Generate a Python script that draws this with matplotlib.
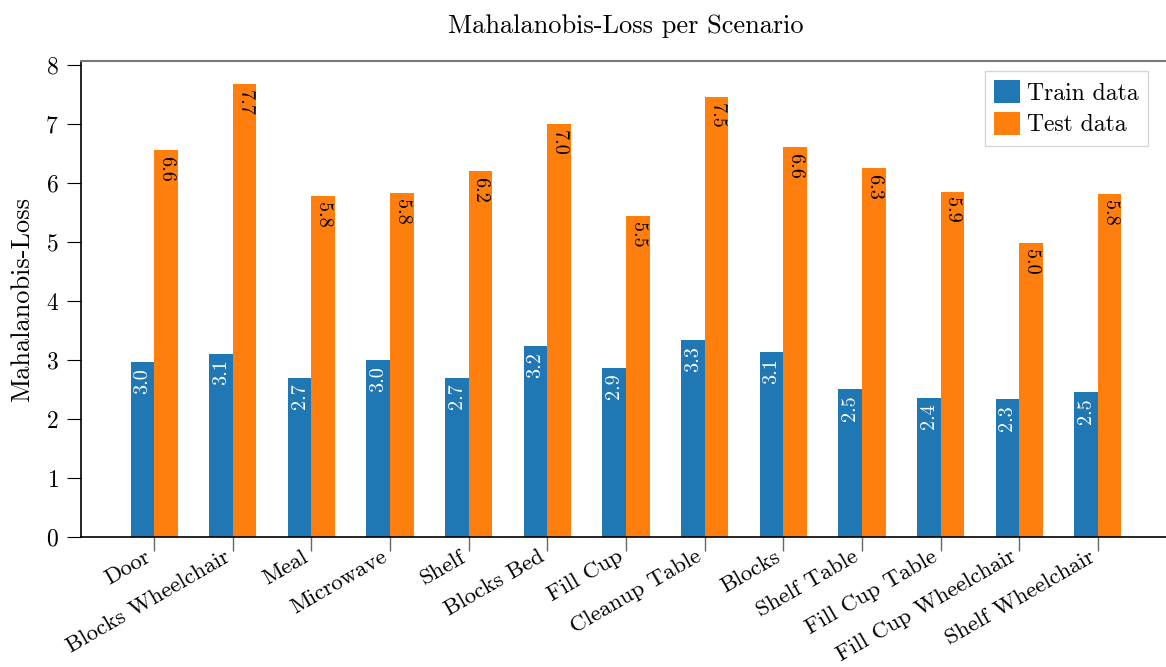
import numpy as np
import matplotlib
matplotlib.use("Agg")
import matplotlib.pyplot as plt

plt.rcParams['font.family'] = ['cmr10', 'DejaVu Serif']
plt.rcParams['mathtext.fontset'] = 'cm'
plt.rcParams['axes.formatter.use_mathtext'] = True

scenarios = ["Door", "Blocks Wheelchair", "Meal", "Microwave", "Shelf",
             "Blocks Bed", "Fill Cup", "Cleanup Table", "Blocks",
             "Shelf Table", "Fill Cup Table", "Fill Cup Wheelchair",
             "Shelf Wheelchair"]
train_loss = [2.97, 3.11, 2.70, 3.00, 2.70, 3.24, 2.87, 3.34, 3.14,
              2.51, 2.36, 2.34, 2.46]
test_loss = [6.57, 7.69, 5.79, 5.84, 6.21, 7.01, 5.45, 7.47, 6.61,
             6.26, 5.86, 4.99, 5.82]

train_color = "#1f77b4"
test_color = "#ff7f0e"

fig = plt.figure(figsize=(11.66, 6.67), dpi=100)
ax = fig.add_axes([81 / 1166, 1 - 537 / 667, 1090 / 1166, 476 / 667])

x = np.arange(len(scenarios))
w = 0.3
ax.bar(x - w / 2, train_loss, w, color=train_color, label="Train data")
ax.bar(x + w / 2, test_loss, w, color=test_color, label="Test data")

# value labels inside the top of each bar
for xi, v in zip(x, train_loss):
    ax.text(xi - w / 2, v - 0.1, f"{v:.1f}", rotation=90, ha="center",
            va="top", color="white", fontsize=14.5)
for xi, v in zip(x, test_loss):
    ax.text(xi + w / 2, v - 0.1, f"{v:.1f}", rotation=270, ha="center",
            va="top", color="black", fontsize=14.5)

ax.set_xticks(x)
ax.set_xticklabels(scenarios, rotation=30, ha="right", fontsize=16.5)
ax.tick_params(axis="x", length=10, color="#666666", width=1, pad=-3)
ax.tick_params(axis="y", length=10, labelsize=17, pad=6)
ax.set_yticks(range(0, 9))

ax.spines["right"].set_visible(False)
ax.spines["top"].set_color("#777777")
ax.spines["top"].set_linewidth(1.5)
ax.spines["left"].set_linewidth(1.2)
ax.spines["bottom"].set_linewidth(1.2)

ax.set_ylabel("Mahalanobis-Loss", fontsize=19, labelpad=8)
ax.set_title("Mahalanobis-Loss per Scenario", fontsize=19, pad=20)

leg = ax.legend(loc="upper right", bbox_to_anchor=(0.979, 0.979),
                fontsize=17, fancybox=False, handlelength=1.1,
                handleheight=1.1, handletextpad=0.3, borderaxespad=0,
                labelspacing=0.3)
leg.get_frame().set_edgecolor("#cccccc")

fig.savefig("out.png", dpi=100)
